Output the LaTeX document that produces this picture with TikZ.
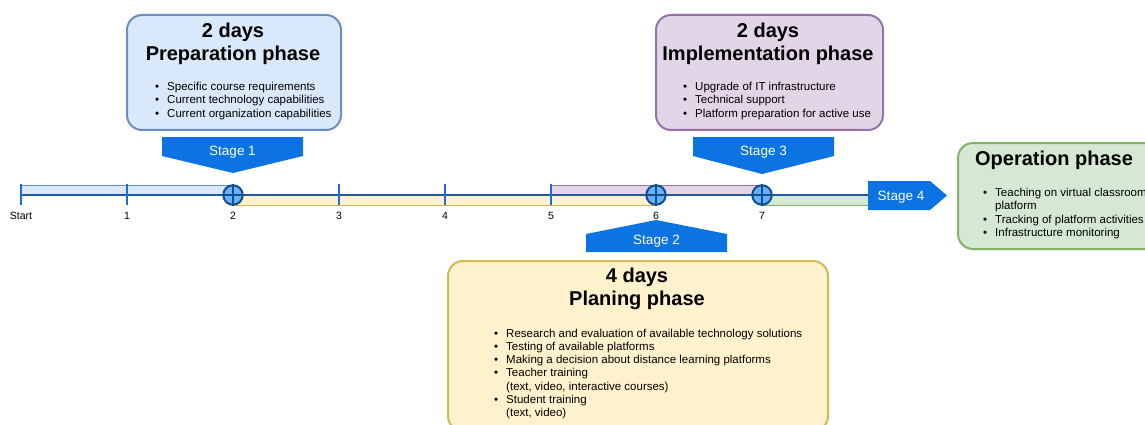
\documentclass[tikz,border=0pt]{standalone}
\usepackage{fontspec}
\setmainfont{Liberation Sans}
\definecolor{prepfill}{HTML}{DAE8FC}
\definecolor{prepdraw}{HTML}{6C8EBF}
\definecolor{implfill}{HTML}{E1D5E7}
\definecolor{impldraw}{HTML}{9673A6}
\definecolor{planfill}{HTML}{FFF2CC}
\definecolor{plandraw}{HTML}{D6B656}
\definecolor{opfill}{HTML}{D5E8D4}
\definecolor{opdraw}{HTML}{82B366}
\definecolor{stageblue}{HTML}{0C74E2}
\definecolor{axisblue}{HTML}{1F5BA3}
\definecolor{tickblue}{HTML}{1A6ED6}
\definecolor{dotfill}{HTML}{66B2FF}
\definecolor{dotdraw}{HTML}{124E8C}
\begin{document}
\begin{tikzpicture}[x=1pt,y=-1pt,
  phasebox/.style={draw, rounded corners=15pt, line width=2pt, anchor=north west, inner sep=0},
  titletext/.style={font=\fontsize{20}{24}\selectfont\bfseries, anchor=base, inner sep=0},
  itemlist/.style={font=\fontsize{11.5}{13.3}\selectfont, anchor=base west, inner sep=0},
  stagelabel/.style={text=white, font=\fontsize{13.5}{15}\selectfont, inner sep=0},
  stageshape/.style={fill=stageblue, draw=none},
  band/.style={line width=0.8pt},
  tick/.style={draw=tickblue, line width=1.4pt},
  ticklabel/.style={font=\fontsize{10.5}{12}\selectfont, anchor=base, inner sep=0},
  milestone/.style={circle, draw=dotdraw, fill=dotfill, line width=2pt, minimum size=19.5pt, inner sep=0}
]
\useasboundingbox (0,0) rectangle (1145,425);

% ---------- phase boxes ----------
\node[phasebox, draw=prepdraw, fill=prepfill, minimum width=214pt, minimum height=115pt] (prep) at (126,14) {};
\node[titletext] (preptitle1) at (233,37.5) {2 days};
\node[titletext] (preptitle2) at (233,60.5) {Preparation phase};
\node[itemlist] (prepitems) at (155,90.5) {\begin{tabular}[t]{@{}c@{\hspace{8pt}}l@{}}
\textbullet & Specific course requirements\\
\textbullet & Current technology capabilities\\
\textbullet & Current organization capabilities
\end{tabular}};

\node[phasebox, draw=impldraw, fill=implfill, minimum width=227pt, minimum height=115pt] (impl) at (655,14) {};
\node[titletext] (impltitle1) at (768,37.5) {2 days};
\node[titletext] (impltitle2) at (768,60.5) {Implementation phase};
\node[itemlist] (implitems) at (683,90.5) {\begin{tabular}[t]{@{}c@{\hspace{8pt}}l@{}}
\textbullet & Upgrade of IT infrastructure\\
\textbullet & Technical support\\
\textbullet & Platform preparation for active use
\end{tabular}};

\node[phasebox, draw=plandraw, fill=planfill, minimum width=380pt, minimum height=170pt] (plan) at (447,260) {};
\node[titletext] (plantitle1) at (637,282.5) {4 days};
\node[titletext] (plantitle2) at (637,305.5) {Planing phase};
\node[itemlist] (planitems) at (494,337) {\begin{tabular}[t]{@{}c@{\hspace{8pt}}l@{}}
\textbullet & Research and evaluation of available technology solutions\\
\textbullet & Testing of available platforms\\
\textbullet & Making a decision about distance learning platforms\\
\textbullet & Teacher training\\
 & (text, video, interactive courses)\\
\textbullet & Student training\\
 & (text, video)
\end{tabular}};

\node[phasebox, draw=opdraw, fill=opfill, minimum width=210pt, minimum height=106pt] (op) at (957,142) {};
\node[titletext] (optitle) at (1054,165) {Operation phase};
\node[itemlist] (opitems) at (983,196.5) {\begin{tabular}[t]{@{}c@{\hspace{8pt}}l@{}}
\textbullet & Teaching on virtual classroom\\
 & platform\\
\textbullet & Tracking of platform activities\\
\textbullet & Infrastructure monitoring
\end{tabular}};

% ---------- timeline coordinates ----------
\coordinate (t0) at (21,195);
\coordinate (t1) at (127,195);
\coordinate (t2) at (233,195);
\coordinate (t3) at (339,195);
\coordinate (t4) at (445,195);
\coordinate (t5) at (551,195);
\coordinate (t6) at (656,195);
\coordinate (t7) at (762,195);
\coordinate (tend) at (870,195);

% bands
\draw[band, draw=prepdraw, fill=prepfill] (t0) rectangle ([yshift=10pt]t2);
\draw[band, draw=plandraw, fill=planfill] (t2) rectangle ([yshift=-10pt]t6);
\draw[band, draw=impldraw, fill=implfill] (t5) rectangle ([yshift=10pt]t7);
\draw[band, draw=opdraw, fill=opfill] (t7) rectangle ([yshift=-10pt]tend);

% axis
\draw[draw=axisblue, line width=1.8pt] (t0) -- (tend);

% ticks
\foreach \t in {t0,t1,t2,t3,t4,t5,t6,t7}
  \draw[tick] ([yshift=11pt]\t) -- ([yshift=-10pt]\t);

% tick labels
\node[ticklabel] (l0) at (21,219) {Start};
\node[ticklabel] (l1) at (127,219) {1};
\node[ticklabel] (l2) at (233,219) {2};
\node[ticklabel] (l3) at (339,219) {3};
\node[ticklabel] (l4) at (445,219) {4};
\node[ticklabel] (l5) at (551,219) {5};
\node[ticklabel] (l6) at (656,219) {6};
\node[ticklabel] (l7) at (762,219) {7};

% milestones
\foreach \t/\n in {t2/m2,t6/m6,t7/m7}{
  \node[milestone] (\n) at (\t) {};
  \draw[draw=dotdraw, line width=1.3pt] (\n.north) -- (\n.south) (\n.west) -- (\n.east);
}

% ---------- stage arrows ----------
\fill[stageshape] (162,137) -- (303,137) -- (303,156) -- (233,173) -- (162,156) -- cycle;
\node[stagelabel] (s1) at (232.5,152.5) {Stage 1};

\fill[stageshape] (693,137) -- (834,137) -- (834,156) -- (762,174) -- (693,156) -- cycle;
\node[stagelabel] (s3) at (763.5,152.5) {Stage 3};

\fill[stageshape] (586,252) -- (727,252) -- (727,234) -- (656,220) -- (586,234) -- cycle;
\node[stagelabel] (s2) at (656.5,241) {Stage 2};

\fill[stageshape] (868,181) -- (930,181) -- (947,195.5) -- (930,210) -- (868,210) -- cycle;
\node[stagelabel] (s4) at (901,197) {Stage 4};

\end{tikzpicture}
\end{document}
